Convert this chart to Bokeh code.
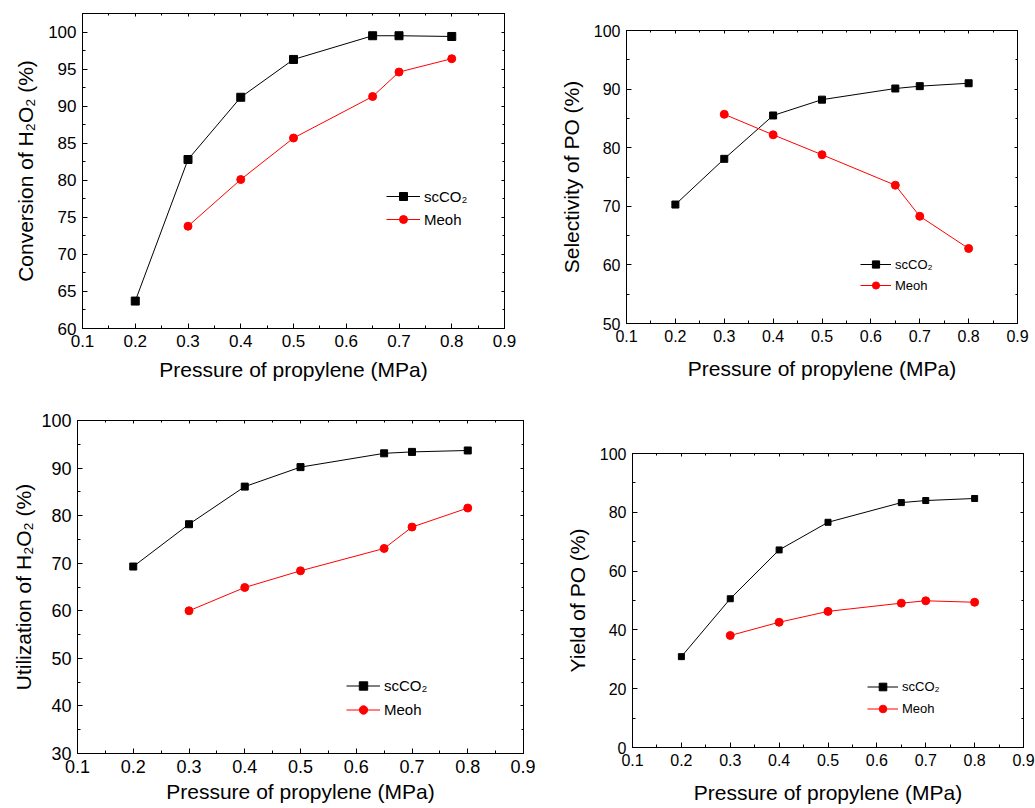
from bokeh.plotting import figure
from bokeh.layouts import column, row
from bokeh.models import LinearAxis, SingleIntervalTicker, Range1d
from bokeh.embed import file_html
from bokeh.resources import INLINE

# ---- data ----
pressure_sc = [0.2, 0.3, 0.4, 0.5, 0.65, 0.7, 0.8]
pressure_me = [0.3, 0.4, 0.5, 0.65, 0.7, 0.8]

conv_sc = [63.7, 82.8, 91.2, 96.3, 99.5, 99.5, 99.4]
conv_me = [73.8, 80.1, 85.7, 91.3, 94.6, 96.4]

sel_sc = [70.3, 78.1, 85.5, 88.2, 90.1, 90.5, 91.0]
sel_me = [85.7, 82.2, 78.8, 73.6, 68.3, 62.8]

util_sc = [69.3, 78.2, 86.1, 90.2, 93.1, 93.4, 93.7]
util_me = [60.0, 64.9, 68.4, 73.1, 77.6, 81.6]

yield_sc = [30.9, 50.6, 67.2, 76.6, 83.3, 84.0, 84.7]
yield_me = [38.1, 42.6, 46.3, 49.1, 49.9, 49.4]

series_names = ["scCO\u2082", "Meoh"]
x_title = "Pressure of propylene (MPa)"

FONT = "Liberation Sans"


def make_panel(ylab, sc, me, yrange, yint, fw, fh, bl, br, bt, bb,
               tick_fs, leg_fs, leg_xy, leg_h, glyph_w, sq, ci,
               ylab_standoff=8, xlab_standoff=8):
    p = figure(frame_width=fw, frame_height=fh,
               min_border_left=bl, min_border_right=br,
               min_border_top=bt, min_border_bottom=bb,
               x_range=Range1d(0.1, 0.9), y_range=Range1d(*yrange),
               output_backend="svg", toolbar_location=None,
               x_axis_label=x_title, y_axis_label=ylab)
    p.xgrid.visible = False
    p.ygrid.visible = False
    p.outline_line_color = "black"
    p.background_fill_color = "white"
    p.border_fill_color = "white"

    xt = SingleIntervalTicker(interval=0.1, num_minor_ticks=2)
    yt = SingleIntervalTicker(interval=yint, num_minor_ticks=2)
    p.xaxis.ticker = xt
    p.yaxis.ticker = yt

    for ax in (p.xaxis[0], p.yaxis[0]):
        ax.axis_line_color = "black"
        ax.major_tick_line_color = "black"
        ax.minor_tick_line_color = "black"
        ax.major_tick_in = 5
        ax.major_tick_out = 0
        ax.minor_tick_in = 3
        ax.minor_tick_out = 0
        ax.major_label_text_font = FONT
        ax.major_label_text_font_size = f"{tick_fs}px"
        ax.major_label_text_color = "black"
        ax.axis_label_text_font = FONT
        ax.axis_label_text_font_size = "21px"
        ax.axis_label_text_font_style = "normal"
        ax.axis_label_text_color = "black"
        ax.major_label_standoff = 6
    p.yaxis.axis_label_standoff = ylab_standoff
    p.xaxis.axis_label_standoff = xlab_standoff

    for loc, tk in (("above", xt), ("right", yt)):
        ax = LinearAxis(ticker=tk, major_label_text_font_size="1px",
                        major_label_text_color=None,
                        major_tick_in=3, major_tick_out=0,
                        minor_tick_in=2, minor_tick_out=0,
                        major_label_standoff=0,
                        axis_line_color="black")
        p.add_layout(ax, loc)

    p.line(pressure_sc, sc, line_color="black", line_width=1,
           legend_label=series_names[0])
    p.scatter(pressure_sc, sc, marker="square", size=sq, fill_color="black",
              line_color="black", legend_label=series_names[0])
    p.line(pressure_me, me, line_color="#ff0000", line_width=1,
           legend_label=series_names[1])
    p.scatter(pressure_me, me, marker="circle", size=ci, fill_color="#ff0000",
              line_color="#ff0000", legend_label=series_names[1])

    lg = p.legend[0]
    lg.location = leg_xy
    lg.border_line_color = None
    lg.background_fill_alpha = 0
    lg.padding = 0
    lg.margin = 0
    lg.spacing = 3
    lg.label_standoff = 4
    lg.glyph_width = glyph_w
    lg.glyph_height = leg_h
    lg.label_height = leg_h
    lg.label_text_font = FONT
    lg.label_text_font_size = f"{leg_fs}px"
    lg.label_text_color = "black"
    return p


p1 = make_panel("Conversion of H\u2082O\u2082 (%)", conv_sc, conv_me, (60, 102.5), 5,
                422, 315, 82, 16, 13, 72, 17, 15, (304, 99), 20, 34, 8, 8)
p2 = make_panel("Selectivity of PO (%)", sel_sc, sel_me, (50, 100), 10,
                391, 293, 106, 18, 30, 77, 16, 13, (234, 29), 18, 31, 7, 8,
                xlab_standoff=12)
p3 = make_panel("Utilization of H\u2082O\u2082 (%)", util_sc, util_me, (30, 100), 10,
                446, 333, 77, 12, 20, 55, 18, 15, (269, 33), 21, 34, 7, 8,
                ylab_standoff=3, xlab_standoff=4)
p4 = make_panel("Yield of PO (%)", yield_sc, yield_me, (0, 100), 20,
                391, 294, 97, 12, 53, 61, 16, 13, (235, 29), 19, 31, 6, 8,
                xlab_standoff=12)

layout = column(row(column(p1), column(p2), spacing=0),
                row(column(p3), column(p4), spacing=0), spacing=0)

open("out.html", "w").write(file_html(layout, INLINE))
